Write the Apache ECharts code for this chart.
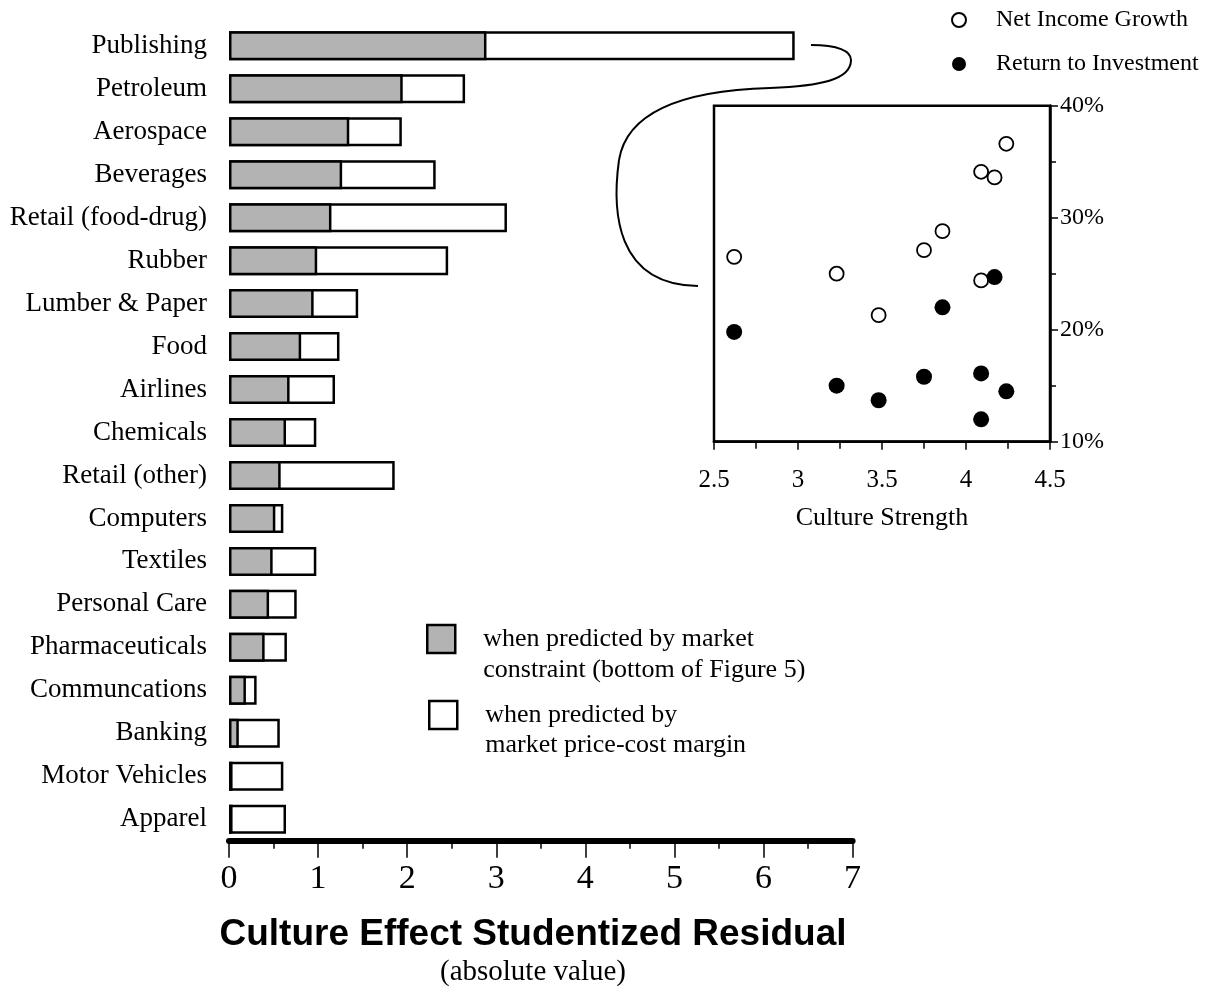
<!DOCTYPE html>
<html>
<head>
<meta charset="utf-8">
<script src="https://cdn.jsdelivr.net/npm/echarts@6/dist/echarts.min.js"></script>
<style>
html,body{margin:0;padding:0;background:#fff;}
#chart{width:1205px;height:987px;}
</style>
</head>
<body>
<div id="chart"></div>
<script>
// ---- Data ----
const industries = ['Publishing','Petroleum','Aerospace','Beverages','Retail (food-drug)','Rubber','Lumber & Paper','Food','Airlines','Chemicals','Retail (other)','Computers','Textiles','Personal Care','Pharmaceuticals','Communcations','Banking','Motor Vehicles','Apparel'];
const byMarketConstraint = [2.89,1.95,1.35,1.27,1.15,0.99,0.95,0.81,0.68,0.64,0.58,0.52,0.49,0.45,0.40,0.19,0.11,0.04,0.04];
const byPriceCostMargin  = [6.35,2.65,1.94,2.32,3.12,2.46,1.45,1.24,1.19,0.98,1.86,0.61,0.98,0.76,0.65,0.31,0.57,0.61,0.64];
const residualTicks = [0,1,2,3,4,5,6,7];

const cultureStrength    = [2.62,3.23,3.48,3.75,3.86,4.09,4.17,4.24,4.09];
const netIncomeGrowth    = [26.5,25.0,21.3,27.1,28.8,34.1,33.6,36.6,24.4];
const returnToInvestment = [19.8,15.0,13.7,15.8,22.0,16.1,24.7,14.5,12.0];

const nameConstraint = 'when predicted by market constraint (bottom of Figure 5)';
const nameMargin = 'when predicted by market price-cost margin';
const legendText = {};
legendText[nameConstraint] = '\nwhen predicted by market\nconstraint (bottom of Figure 5)';
legendText[nameMargin] = '\nwhen predicted by\nmarket price-cost margin';

const SERIF = 'Liberation Serif, Times New Roman, serif';
const SANS = 'Liberation Sans, Arial, sans-serif';

const chart = echarts.init(document.getElementById('chart'), null, {renderer:'canvas'});

const option = {
  animation: false,
  backgroundColor: '#fff',
  title: {
    text: 'Culture Effect Studentized Residual',
    subtext: '(absolute value)',
    left: 533, textAlign: 'center', top: 916, padding: 0, itemGap: 5,
    textStyle: {fontFamily: SANS, fontWeight: 'bold', fontSize: 37, color: '#000'},
    subtextStyle: {fontFamily: SERIF, fontSize: 29, color: '#000'}
  },
  legend: [
    {
      data: [nameConstraint], left: 426, top: 592.5, padding: 0, orient: 'vertical',
      itemWidth: 28, itemHeight: 28, icon: 'rect', selectedMode: false,
      itemStyle: {borderColor: '#000', borderWidth: 2.5},
      formatter: n => legendText[n],
      textStyle: {fontFamily: SERIF, fontSize: 26, lineHeight: 31, color: '#000', padding: [0,0,0,23]}
    },
    {
      data: [nameMargin], left: 428, top: 670, padding: 0, orient: 'vertical',
      itemWidth: 28, itemHeight: 28, icon: 'rect', selectedMode: false,
      itemStyle: {borderColor: '#000', borderWidth: 2.5},
      formatter: n => legendText[n],
      textStyle: {fontFamily: SERIF, fontSize: 26, lineHeight: 30, color: '#000', padding: [0,0,0,23]}
    },
    {
      data: ['Net Income Growth', 'Return to Investment'], left: 951, top: 6.5, padding: 0,
      orient: 'vertical', itemWidth: 14, itemHeight: 14, itemGap: 17, selectedMode: false,
      textStyle: {fontFamily: SERIF, fontSize: 24, lineHeight: 27, color: '#000', padding: [0,0,0,25]}
    }
  ],
  grid: [
    {left: 229, right: 352.4, top: 24.3, height: 816.4, show: false},
    {left: 714, right: 155, top: 105.7, height: 336, show: true, borderColor: '#000', borderWidth: 2.5, backgroundColor: 'transparent'}
  ],
  xAxis: [
    {
      type: 'value', gridIndex: 0, min: residualTicks[0], max: residualTicks[residualTicks.length-1], interval: 1,
      axisLine: {show: true, lineStyle: {color: '#000', width: 6}},
      axisTick: {show: true, length: 17, lineStyle: {color: '#000', width: 1.5}},
      minorTick: {show: true, splitNumber: 2, length: 8, lineStyle: {color: '#000', width: 1.5}},
      splitLine: {show: false},
      axisLabel: {fontFamily: SERIF, fontSize: 34, color: '#000', margin: 21}
    },
    {
      type: 'value', gridIndex: 1, min: 2.5, max: 4.5, interval: 0.5,
      name: 'Culture Strength', nameLocation: 'middle', nameGap: 63,
      nameTextStyle: {fontFamily: SERIF, fontSize: 26, color: '#000'},
      axisLine: {show: true, onZero: false, lineStyle: {color: '#000', width: 2.5}},
      axisTick: {show: true, length: 8, lineStyle: {color: '#000', width: 1.5}},
      minorTick: {show: true, splitNumber: 2, length: 7, lineStyle: {color: '#000', width: 1.5}},
      splitLine: {show: false},
      axisLabel: {fontFamily: SERIF, fontSize: 25, color: '#000', margin: 26}
    }
  ],
  yAxis: [
    {
      type: 'category', gridIndex: 0, data: industries, inverse: true,
      axisLine: {show: false}, axisTick: {show: false},
      axisLabel: {fontFamily: SERIF, fontSize: 27, color: '#000', margin: 22, padding: [6,0,0,0]}
    },
    {
      type: 'value', gridIndex: 1, position: 'right', min: 10, max: 40, interval: 10,
      axisLine: {show: true, onZero: false, lineStyle: {color: '#000', width: 2.5}},
      axisTick: {show: true, length: 8, lineStyle: {color: '#000', width: 1.5}},
      minorTick: {show: true, splitNumber: 2, length: 6, lineStyle: {color: '#000', width: 1.5}},
      splitLine: {show: false},
      axisLabel: {fontFamily: SERIF, fontSize: 24, color: '#000', margin: 10, formatter: '{value}%'}
    }
  ],
  series: [
    {
      name: nameMargin, type: 'bar', xAxisIndex: 0, yAxisIndex: 0, data: byPriceCostMargin,
      barWidth: 29, itemStyle: {color: '#fff', borderColor: '#000', borderWidth: 2.5}, z: 2
    },
    {
      name: nameConstraint, type: 'bar', xAxisIndex: 0, yAxisIndex: 0, data: byMarketConstraint,
      barWidth: 29, barGap: '-100%', itemStyle: {color: '#b3b3b3', borderColor: '#000', borderWidth: 2.5}, z: 3
    },
    {
      name: 'Net Income Growth', type: 'scatter', xAxisIndex: 1, yAxisIndex: 1,
      data: cultureStrength.map((c, i) => [c, netIncomeGrowth[i]]),
      symbol: 'circle', symbolSize: 14,
      itemStyle: {color: '#fff', borderColor: '#000', borderWidth: 1.8, opacity: 1}
    },
    {
      name: 'Return to Investment', type: 'scatter', xAxisIndex: 1, yAxisIndex: 1,
      data: cultureStrength.map((c, i) => [c, returnToInvestment[i]]),
      symbol: 'circle', symbolSize: 16,
      itemStyle: {color: '#000', borderColor: '#000', borderWidth: 0, opacity: 1}
    }
  ],
  graphic: [
    {type: 'bezierCurve', shape: {x1: 811, y1: 45, cpx1: 838, cpy1: 45, cpx2: 851, cpy2: 51, x2: 851, y2: 60}, style: {stroke: '#000', lineWidth: 2, fill: null}},
    {type: 'bezierCurve', shape: {x1: 851, y1: 60, cpx1: 851, cpy1: 80, cpx2: 820, cpy2: 86, x2: 770, y2: 88}, style: {stroke: '#000', lineWidth: 2, fill: null}},
    {type: 'bezierCurve', shape: {x1: 770, y1: 88, cpx1: 700, cpy1: 90, cpx2: 628, cpy2: 105, x2: 619, y2: 160}, style: {stroke: '#000', lineWidth: 2, fill: null}},
    {type: 'bezierCurve', shape: {x1: 619, y1: 160, cpx1: 612, cpy1: 210, cpx2: 615, cpy2: 285, x2: 698, y2: 286}, style: {stroke: '#000', lineWidth: 2, fill: null}}
  ]
};
chart.setOption(option);
</script>
</body>
</html>
